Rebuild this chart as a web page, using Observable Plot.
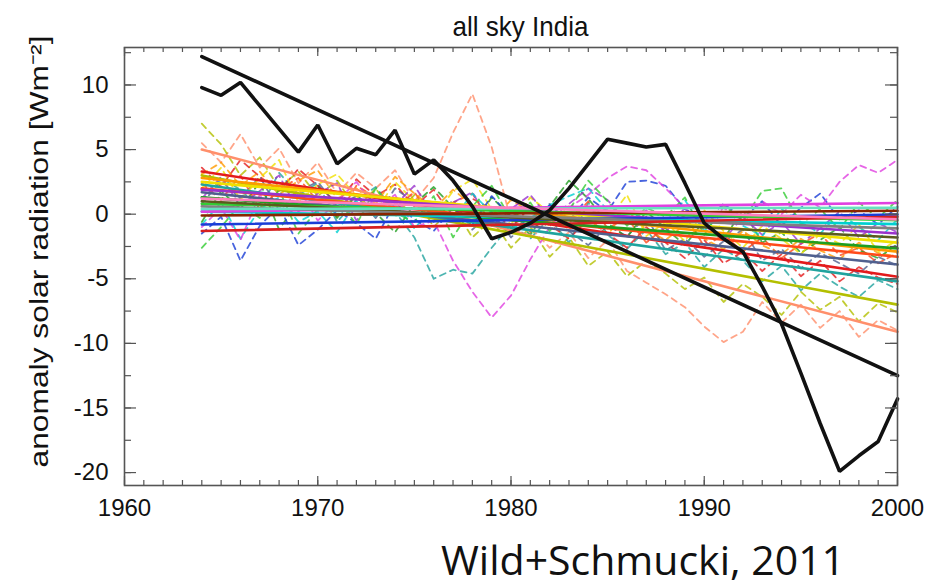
<!DOCTYPE html>
<html>
<head>
<meta charset="utf-8">
<script src="https://cdn.jsdelivr.net/npm/d3@7"></script>
<script src="https://cdn.jsdelivr.net/npm/@observablehq/plot@0.6"></script>
<style>
  body { margin: 0; background: #fff; width: 945px; height: 587px; overflow: hidden; position: relative;
         font-family: "Liberation Sans", Arial, sans-serif; color: #111; }
  #title { height: 40px; position: relative; }
  #title span { position: absolute; left: 134px; width: 773px; top: 13px; text-align: center;
                font-size: 28px; line-height: 28px; transform: scaleX(0.93); }
  #chart svg { display: block; }
  #caption { position: absolute; left: 441px; top: 541px; font-family: "Open Sans", sans-serif;
             font-size: 41px; line-height: 36px; color: #111; white-space: nowrap; }
</style>
</head>
<body>
<div id="title"><span>all sky India</span></div>
<div id="chart"></div>
<div id="caption">Wild+Schmucki, 2011</div>
<script>
// ---------------- data ----------------
const years = [1964,1965,1966,1967,1968,1969,1970,1971,1972,1973,1974,1975,1976,1977,1978,1979,1980,1981,1982,
               1983,1984,1985,1986,1987,1988,1989,1990,1991,1992,1993,1994,1995,1996,1997,1998,1999,2000];

// observed (black)
const observed = [9.8,9.2,10.2,8.4,6.6,4.8,6.9,3.9,5.1,4.6,6.5,3.1,4.2,2.6,0.6,-1.9,-1.4,-0.7,0.3,
                  2.0,3.9,5.8,5.5,5.2,5.4,2.4,-0.7,-1.9,-2.9,-5.6,-8.5,-12.3,-16.2,-19.9,-18.7,-17.6,-14.3];
const trendYears = [1964, 2000];
const observedTrend = [12.2, -12.5];

// models: colour and linear trend end values
const modelNames  = ["salmon","olive","teal","red","slate","orangered","orange","green","yellow","purple",
                     "cyan","blue","magenta","lime","darkolive","gray","brown","aquamarine","crimson","pink"];
const modelColors = ["#ff8f6b","#b3bf00","#20a39e","#e31a1c","#50608f","#ff4a1a","#ff9a00","#1f9e1f","#f0e000","#9a32cd",
                     "#00cfd0","#1a3dd6","#e040e0","#33cc33","#5b5b1e","#808080","#8b2500","#66e0c0","#d62020","#ff7fbf"];
const trendStart  = [5.0,3.0,2.3,3.3,1.7,2.0,2.8,1.3,2.5,1.9,0.2,-0.8,0.2,0.8,1.0,0.6,-0.1,0.4,-1.3,1.2];
const trendEnd    = [-9.1,-7.0,-5.2,-4.85,-3.9,-3.3,-2.9,-2.65,-2.2,-1.5,-0.77,-0.03,0.87,-0.46,-1.8,-1.1,0.26,0.5,-0.2,-0.4];

// model annual anomalies (dashed)
const dashSalmon = [5.5,4.0,6.2,3.6,5.1,2.4,4.0,1.6,3.2,2.0,3.4,1.0,2.8,6.3,9.3,5.2,-0.5,-1.0,-2.6,-1.4,-3.4,-2.0,-4.4,-5.3,-6.2,-7.2,-8.7,-9.9,-9.1,-6.8,-8.4,-7.0,-8.8,-7.5,-9.5,-8.2,-9.0];
const dashOlive  = [7.0,5.4,3.0,4.4,2.0,3.3,1.4,2.6,0.4,2.0,-0.2,1.5,-1.0,0.6,-1.8,-0.4,-2.6,-1.0,-3.3,-1.8,-4.0,-2.9,-4.8,-3.6,-4.6,-5.8,-4.9,-6.8,-5.4,-6.4,-7.8,-6.0,-7.4,-6.4,-8.3,-6.9,-7.6];
const dashTeal   = [1.0,2.8,1.9,0.4,3.2,1.5,2.4,-0.6,1.1,2.1,0.2,-1.8,-5.0,-4.3,-4.6,-2.6,-0.8,-1.9,-0.3,-2.2,0.9,-1.6,-2.7,-1.2,-3.1,-2.2,-4.1,-2.7,-3.6,-5.2,-4.0,-5.9,-4.6,-5.6,-6.4,-5.1,-5.8];
const dashRed    = [3.6,2.1,4.2,2.9,1.8,3.5,2.2,0.9,2.7,1.4,2.3,0.6,1.9,-0.2,1.2,0.4,-1.1,0.6,-0.8,-1.9,-0.4,-1.5,-2.6,-1.0,-2.2,-3.4,-2.0,-3.8,-2.9,-4.4,-3.1,-4.8,-3.6,-5.2,-4.1,-4.9,-5.4];
const dashSlate  = [0.8,2.6,1.2,2.9,0.3,1.8,2.5,0.6,1.4,-0.3,2.0,0.9,-0.6,1.1,-1.2,0.2,-1.8,-0.5,0.8,-1.3,-2.4,-0.9,-1.7,-0.2,-2.8,-1.9,-3.3,-2.1,-1.2,-3.6,-2.7,-4.2,-3.0,-3.8,-4.6,-3.3,-4.0];
const dashOrangered = [2.4,1.1,3.0,0.4,1.9,2.8,1.0,-0.2,2.2,1.3,0.5,1.7,-0.4,0.9,1.6,-0.8,0.3,-1.4,0.1,-0.7,1.0,-1.1,-0.3,-2.2,-1.0,-0.1,-2.5,-1.6,-2.9,-1.8,-3.4,-2.3,-1.5,-3.2,-2.6,-3.8,-3.0];
const dashOrange = [3.1,4.0,2.2,3.3,1.5,2.6,3.4,1.2,2.0,0.8,2.9,1.6,0.4,1.9,0.7,-0.5,1.1,0.2,-0.9,0.6,-0.4,-1.6,0.3,-1.2,-2.0,-0.8,-1.9,-2.7,-1.3,-2.4,-3.1,-1.9,-2.8,-3.5,-2.2,-3.0,-3.3];
const dashGreen  = [-0.6,1.8,0.4,2.5,-1.2,1.0,2.2,-0.3,1.5,0.1,-1.4,0.8,2.1,0.5,-0.9,1.3,-0.2,-1.6,0.6,2.6,1.2,-0.7,-1.8,0.2,-1.1,-2.4,-0.5,-1.9,0.3,-2.2,-1.4,-3.0,-2.0,-1.0,-2.8,-3.4,-2.3];
const dashYellow = [2.0,3.6,1.1,2.8,4.2,0.9,2.3,3.1,1.4,0.2,2.5,1.0,-0.3,1.8,2.7,0.4,-0.8,1.3,0.1,-1.2,0.7,-0.5,1.5,-1.7,-0.6,-2.1,0.3,-1.3,-2.6,-0.9,-1.9,-3.1,-1.5,-2.3,-0.8,-2.9,-2.0];
const dashPurple = [1.2,2.9,0.6,1.8,3.0,0.2,1.6,2.4,-0.5,1.3,0.7,2.2,-0.1,0.9,1.7,-0.9,0.4,1.5,-0.4,0.8,2.0,1.1,-0.7,0.3,-1.4,0.5,-0.9,-2.0,-0.2,-1.6,-0.6,-2.3,-1.1,0.2,-1.8,-0.7,-1.4];
const dashCyan   = [-0.8,0.9,-1.9,0.4,1.3,-0.6,0.2,-1.4,1.0,-0.2,0.8,-1.1,0.5,-0.4,1.6,0.1,-1.2,-0.3,0.7,1.4,2.0,0.3,-0.8,0.6,-0.5,1.1,-1.3,0.2,-0.9,-1.7,0.4,-0.6,-1.5,0.1,-1.0,-2.0,-0.4];
const dashBlue   = [-1.5,-0.2,-3.6,-0.9,0.6,-2.4,-1.2,0.3,-0.7,-1.9,0.9,-0.4,-1.3,0.5,-0.8,1.4,-0.2,-1.0,0.7,-0.5,1.3,0.2,2.5,2.6,2.2,0.4,-0.6,0.8,-0.3,1.0,-0.9,0.5,1.6,-0.4,0.3,-0.8,0.6];
const dashMagenta = [-1.0,0.5,-2.0,1.5,0.0,2.0,-0.5,1.0,2.5,0.5,1.5,-1.0,-0.5,-3.6,-6.0,-8.0,-6.3,-3.5,-1.0,0.5,1.5,2.8,3.7,3.4,2.0,0.5,-1.0,0.5,-0.5,1.0,0.0,1.5,0.5,2.5,3.8,3.2,4.2];
const dashLime   = [-2.6,-1.0,0.8,-0.3,1.9,-1.5,0.4,1.2,-0.8,2.0,0.1,-0.6,1.4,-1.8,0.6,2.2,-0.4,0.9,-1.3,0.3,2.6,1.0,-0.9,0.5,-0.2,1.3,-1.6,0.7,-0.5,1.8,2.0,-0.8,0.4,-1.2,0.9,-0.3,1.1];

const dashedModels = ["salmon","olive","teal","red","slate","orangered","orange","green","yellow","purple","cyan","blue","magenta","lime"];
const dashedValues = [dashSalmon,dashOlive,dashTeal,dashRed,dashSlate,dashOrangered,dashOrange,dashGreen,dashYellow,dashPurple,dashCyan,dashBlue,dashMagenta,dashLime];

const xTickLabels = [1960, 1970, 1980, 1990, 2000];
const yTickLabels = [-20, -15, -10, -5, 0, 5, 10];
const yLabel = "anomaly solar radiation [Wm\u207B\u00B2]";

// ---------------- chart ----------------
const xDomain = [1960, 2000];
const yDomain = [-21, 12.9];
const xMinor = d3.range(1960, 2001, 1);
const xMajor = xMinor.filter(d => d % 10 === 0);
const yMinor = d3.range(-20, 12.6, 2.5);
const yMajor = yMinor.filter(d => d % 5 === 0);
const tickColor = "#555";

const colorOf = name => modelColors[modelNames.indexOf(name)];

const marks = [];

// dashed model series
dashedModels.forEach((name, k) => {
  marks.push(Plot.line(dashedValues[k], {
    x: (d, i) => years[i], y: d => d,
    stroke: colorOf(name), strokeWidth: 1.8, strokeDasharray: "6,5", strokeOpacity: 0.8
  }));
});

// model trend lines
modelNames.forEach((name, k) => {
  marks.push(Plot.line([trendStart[k], trendEnd[k]], {
    x: (d, i) => trendYears[i], y: d => d,
    stroke: modelColors[k], strokeWidth: 2.6
  }));
});

// observed + trend
marks.push(Plot.line(observed, {x: (d, i) => years[i], y: d => d, stroke: "#111", strokeWidth: 3.6, strokeLinejoin: "miter"}));
marks.push(Plot.line(observedTrend, {x: (d, i) => trendYears[i], y: d => d, stroke: "#111", strokeWidth: 3.6}));

// inward ticks on all four sides
const lo = yDomain[0], hi = yDomain[1];
function xTicks(values, len) {
  return [
    Plot.ruleX(values, {x: d => d, y1: () => lo, y2: () => lo, insetTop: -len, insetBottom: 0, stroke: tickColor, strokeWidth: 1.2}),
    Plot.ruleX(values, {x: d => d, y1: () => hi, y2: () => hi, insetTop: 0, insetBottom: -len, stroke: tickColor, strokeWidth: 1.2})
  ];
}
function yTicks(values, len) {
  return [
    Plot.ruleY(values, {y: d => d, x1: () => xDomain[0], x2: () => xDomain[0], insetLeft: 0, insetRight: -len, stroke: tickColor, strokeWidth: 1.2}),
    Plot.ruleY(values, {y: d => d, x1: () => xDomain[1], x2: () => xDomain[1], insetLeft: -len, insetRight: 0, stroke: tickColor, strokeWidth: 1.2})
  ];
}
marks.push(...xTicks(xMinor, 5), ...xTicks(xMajor, 9), ...yTicks(yMinor, 7), ...yTicks(yMajor, 12));

marks.push(Plot.frame({stroke: tickColor, strokeWidth: 1.6}));

marks.push(Plot.axisX(xTickLabels, {tickSize: 0, tickPadding: 13, fontSize: 24, tickFormat: d => String(d), label: null}));
marks.push(Plot.axisY(yTickLabels, {tickSize: 0, tickPadding: 16, fontSize: 24, tickFormat: d => String(d), label: null}));

marks.push(Plot.text([yLabel], {
  frameAnchor: "left", text: d => d, rotate: -90, textAnchor: "middle",
  dx: -85, dy: -15, fontSize: 25, fill: "#111"
}));

const chart = Plot.plot({
  width: 945, height: 500,
  marginLeft: 124, marginRight: 48, marginTop: 7, marginBottom: 55,
  x: {domain: xDomain, nice: false},
  y: {domain: yDomain, nice: false},
  style: {fontFamily: "'Liberation Sans', Arial, sans-serif", fontSize: "24px", color: "#111", background: "#fff", overflow: "visible"},
  marks
});
document.getElementById("chart").appendChild(chart);

d3.select(chart).selectAll("text")
  .filter(function () { return this.textContent === yLabel; })
  .attr("textLength", 432)
  .attr("lengthAdjust", "spacingAndGlyphs");
</script>
</body>
</html>
